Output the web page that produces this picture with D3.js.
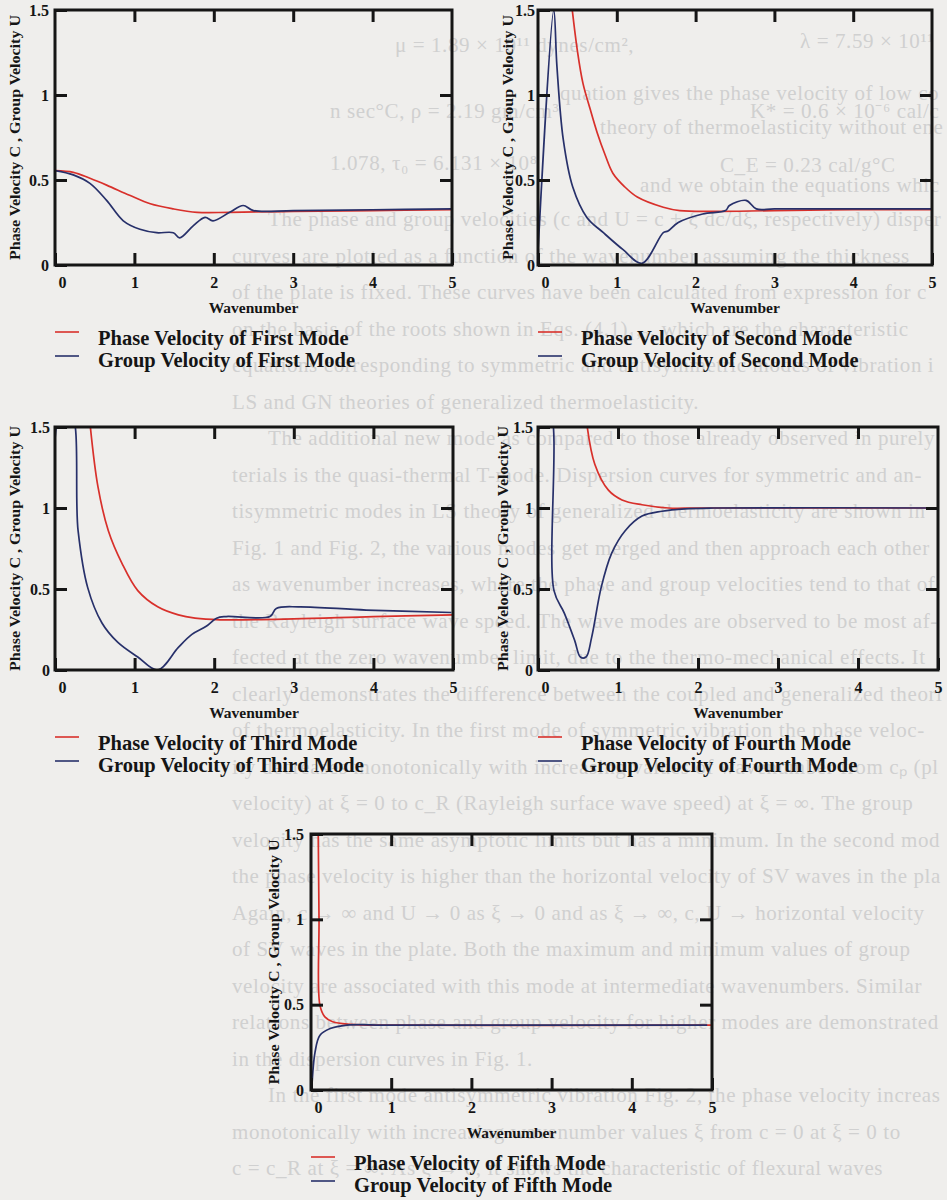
<!DOCTYPE html>
<html>
<head>
<meta charset="utf-8">
<script src="https://cdn.jsdelivr.net/npm/d3@7"></script>
<style>
  html, body { margin: 0; padding: 0; background: #efeeec; }
  svg { display: block; }
</style>
</head>
<body>
<svg id="page"></svg>
<script>
// axes shared by all five panels
const xTicks = [0, 1, 2, 3, 4, 5]
const yTicks = [0, 0.5, 1, 1.5]
const modeNames = ["First", "Second", "Third", "Fourth", "Fifth"]

// [wavenumber, velocity] pairs
const phase1 = [[0, 0.555], [0.23, 0.545], [0.44, 0.51], [0.65, 0.47], [0.94, 0.41], [1.2, 0.36],
  [1.49, 0.33], [1.79, 0.31], [2.2, 0.31], [3, 0.315], [4, 0.32], [5, 0.325]]
const group1 = [[0, 0.555], [0.23, 0.53], [0.44, 0.48], [0.65, 0.38], [0.86, 0.26], [1.07, 0.21],
  [1.28, 0.19], [1.49, 0.19], [1.57, 0.16], [1.74, 0.23], [1.89, 0.28], [1.99, 0.26], [2.2, 0.31],
  [2.37, 0.35], [2.5, 0.32], [3, 0.32], [4, 0.325], [5, 0.33]]

const phase2 = [[0.43, 1.52], [0.5, 1.26], [0.57, 1.07], [0.66, 0.92], [0.75, 0.78], [0.85, 0.65],
  [0.95, 0.54], [1.1, 0.46], [1.26, 0.4], [1.59, 0.34], [1.8, 0.32], [2.2, 0.315], [3, 0.32],
  [4, 0.325], [5, 0.325]]
const group2 = [[0, 0.08], [0.2, 1.5], [0.24, 1.17], [0.32, 0.74], [0.44, 0.46], [0.62, 0.28],
  [0.83, 0.19], [1.08, 0.09], [1.32, 0.01], [1.59, 0.19], [1.65, 0.2], [1.78, 0.25], [2.09, 0.3],
  [2.38, 0.32], [2.43, 0.35], [2.64, 0.38], [2.77, 0.33], [3, 0.33], [4, 0.33], [5, 0.33]]

const phase3 = [[0.44, 1.52], [0.54, 1.13], [0.67, 0.86], [0.84, 0.66], [1.04, 0.49], [1.29, 0.39],
  [1.55, 0.34], [1.76, 0.32], [2.07, 0.31], [3, 0.315], [4, 0.33], [5, 0.34]]
const group3 = [[0, 0], [0.075, 1.6], [0.2, 1.6], [0.29, 0.86], [0.41, 0.51], [0.59, 0.29],
  [0.79, 0.17], [1.04, 0.08], [1.29, 0.0], [1.55, 0.14], [1.72, 0.22], [1.9, 0.27], [2.03, 0.32],
  [2.15, 0.33], [2.7, 0.33], [2.78, 0.38], [3.07, 0.39], [3.91, 0.37], [4.98, 0.355]]

const phase4 = [[0.61, 1.52], [0.71, 1.27], [0.88, 1.11], [1.05, 1.05], [1.3, 1.02], [1.63, 1.0],
  [2, 1.0], [5, 1.0]]
const group4 = [[0.01, 0.48], [0.06, 1.6], [0.15, 1.6], [0.2, 0.49], [0.33, 0.35], [0.46, 0.18],
  [0.53, 0.08], [0.6, 0.08], [0.67, 0.2], [0.79, 0.51], [0.92, 0.72], [1.09, 0.86], [1.3, 0.95],
  [1.55, 0.98], [1.84, 0.995], [2.2, 1.0], [5, 1.0]]

const phase5 = [[0.09, 1.52], [0.1, 1.0], [0.11, 0.5], [0.17, 0.43], [0.27, 0.4], [0.49, 0.385],
  [1, 0.38], [5, 0.38]]
const group5 = [[0.01, 0.01], [0.05, 0.22], [0.11, 0.32], [0.24, 0.36], [0.45, 0.38], [1, 0.38],
  [4.94, 0.38]]

const phaseData = [phase1, phase2, phase3, phase4, phase5]
const groupData = [group1, group2, group3, group4, group5]

// where each panel sits on the page
const panels = [
  {left: 55, top: 10, width: 397, height: 255, yLabelX: 15, pad: 6},
  {left: 538, top: 10, width: 394, height: 255, yLabelX: 508, pad: 3},
  {left: 55, top: 427, width: 398, height: 243, yLabelX: 15, pad: 5},
  {left: 538, top: 427, width: 400, height: 243, yLabelX: 503, pad: 5},
  {left: 311, top: 834, width: 401, height: 256, yLabelX: 274, pad: 7}
]

// faint page text showing through the scan
const pageLines = [
  "The phase and group velocities (c and U = c + ξ dc/dξ, respectively) dispersion",
  "curves, are plotted as a function of the wavenumber assuming the thickness",
  "of the plate is fixed. These curves have been calculated from expression for c",
  "on the basis of the roots shown in Eqs. (4.1)₁,₂, which are the characteristic",
  "equations corresponding to symmetric and antisymmetric modes of vibration in",
  "LS and GN theories of generalized thermoelasticity.",
  "The additional new mode as compared to those already observed in purely elastic ma-",
  "terials is the quasi-thermal T-mode. Dispersion curves for symmetric and an-",
  "tisymmetric modes in LS theory of generalized thermoelasticity are shown in",
  "Fig. 1 and Fig. 2, the various modes get merged and then approach each other",
  "as wavenumber increases, where the phase and group velocities tend to that of",
  "the Rayleigh surface wave speed. The wave modes are observed to be most af-",
  "fected at the zero wavenumber limit, due to the thermo-mechanical effects. It",
  "clearly demonstrates the difference between the coupled and generalized theories",
  "of thermoelasticity. In the first mode of symmetric vibration the phase veloc-",
  "ity decreases monotonically with increasing values of wavenumber from cₚ (plate",
  "velocity) at ξ = 0 to c_R (Rayleigh surface wave speed) at ξ = ∞. The group",
  "velocity has the same asymptotic limits but has a minimum. In the second mode",
  "the phase velocity is higher than the horizontal velocity of SV waves in the plate.",
  "Again, c → ∞ and U → 0 as ξ → 0 and as ξ → ∞, c, U → horizontal velocity",
  "of SV waves in the plate. Both the maximum and minimum values of group",
  "velocity are associated with this mode at intermediate wavenumbers. Similar",
  "relations between phase and group velocity for higher modes are demonstrated",
  "in the dispersion curves in Fig. 1.",
  "In the first mode antisymmetric vibration Fig. 2, the phase velocity increases",
  "monotonically with increasing wavenumber values ξ from c = 0 at ξ = 0 to",
  "c = c_R at ξ = ∞. As ξ → 0, it shows the characteristic of flexural waves"
]
const indented = [0, 6, 24]

// a few of the formula lines near the top of the page
const topBits = [
  {x: 395, y: 52, t: "μ = 1.89 × 10¹¹ dynes/cm²,"},
  {x: 800, y: 48, t: "λ = 7.59 × 10¹¹ dynes/cm²,"},
  {x: 560, y: 100, t: "quation gives the phase velocity of low compressional or plate waves in"},
  {x: 330, y: 118, t: "n sec°C,     ρ = 2.19 gm/cm³"},
  {x: 750, y: 118, t: "K* = 0.6 × 10⁻⁶ cal/cm"},
  {x: 600, y: 134, t: "theory of thermoelasticity without energy dissipation."},
  {x: 330, y: 170, t: "1.078,   τ₀ = 6.131 × 10⁸"},
  {x: 720, y: 172, t: "C_E = 0.23 cal/g°C"},
  {x: 640, y: 192, t: "and we obtain the equations which are similar"}
]

const svg = d3.select("#page")
  .attr("width", 947)
  .attr("height", 1200)

const serif = "'Liberation Serif', 'Times New Roman', serif"

// background page text, very light, cut at the page edge like the scan
const bg = svg.append("g")
  .attr("fill", "#d0d0d0")
  .style("font-family", serif)
  .style("font-size", "21px")
  .style("letter-spacing", "0.6px")

const bgText = pageLines.map((t, i) => ({x: indented.includes(i) ? 268 : 232, y: 226 + i * 36.5, t: t}))
  .concat(topBits)

bg.selectAll("text")
  .data(bgText)
  .enter()
  .append("text")
  .attr("x", d => d.x)
  .attr("y", d => d.y)
  .text(d => d.t)
  .each(function(d) {
    //drop characters that would run past the right edge
    let s = d.t
    while (s.length > 1 && d.x + this.getComputedTextLength() > 944) {
      s = s.slice(0, -1)
      this.textContent = s
    }
  })

const red = "#d8302b"
const blue = "#27306a"

panels.forEach((p, i) => {
  const g = svg.append("g")
    .attr("transform", "translate(" + p.left + "," + p.top + ")")

  const x = d3.scaleLinear().domain([0, 5]).range([0, p.width])
  const y = d3.scaleLinear().domain([0, 1.5]).range([p.height, 0])

  g.append("clipPath")
    .attr("id", "clip" + i)
    .append("rect")
    .attr("width", p.width)
    .attr("height", p.height)

  const line = d3.line()
    .x(d => x(d[0]))
    .y(d => y(d[1]))
    .curve(d3.curveCatmullRom.alpha(0.5))

  //phase first so the group curve sits on top of it
  g.append("path")
    .datum(phaseData[i])
    .attr("clip-path", "url(#clip" + i + ")")
    .attr("fill", "none")
    .attr("stroke", red)
    .attr("stroke-width", 1.7)
    .attr("d", line)

  g.append("path")
    .datum(groupData[i])
    .attr("clip-path", "url(#clip" + i + ")")
    .attr("fill", "none")
    .attr("stroke", blue)
    .attr("stroke-width", 1.7)
    .attr("d", line)

  //inward ticks on all four sides
  const bottom = g.append("g")
    .attr("transform", "translate(0," + p.height + ")")
    .call(d3.axisBottom(x).tickValues(xTicks).tickSize(-12).tickPadding(12).tickFormat(d => String(d)))
  bottom.selectAll("text").filter(d => d === 0).attr("dx", 7)

  g.append("g")
    .call(d3.axisTop(x).tickValues([1, 2, 3, 4]).tickSize(-12).tickFormat(""))

  g.append("g")
    .call(d3.axisLeft(y).tickValues(yTicks).tickSize(-12).tickPadding(p.pad).tickFormat(d => String(d)))

  g.append("g")
    .attr("transform", "translate(" + p.width + ",0)")
    .call(d3.axisRight(y).tickValues([0.5, 1]).tickSize(-12).tickFormat(""))

  g.selectAll(".domain").remove()
  g.selectAll(".tick line")
    .attr("stroke", "#151515")
    .attr("stroke-width", 3)
  g.selectAll(".tick text")
    .attr("fill", "#151515")
    .style("font-family", serif)
    .style("font-weight", "bold")
    .style("font-size", "16px")

  //plot frame
  g.append("rect")
    .attr("width", p.width)
    .attr("height", p.height)
    .attr("fill", "none")
    .attr("stroke", "#151515")
    .attr("stroke-width", 3)

  g.append("text")
    .attr("x", p.width / 2)
    .attr("y", p.height + 48)
    .attr("text-anchor", "middle")
    .attr("fill", "#151515")
    .style("font-family", serif)
    .style("font-weight", "bold")
    .style("font-size", "15.5px")
    .text("Wavenumber")

  g.append("text")
    .attr("transform", "translate(" + (p.yLabelX - p.left) + "," + (p.height / 2) + ")rotate(-90)")
    .attr("text-anchor", "middle")
    .attr("dominant-baseline", "central")
    .attr("textLength", 245)
    .attr("lengthAdjust", "spacingAndGlyphs")
    .attr("fill", "#151515")
    .style("font-family", serif)
    .style("font-weight", "bold")
    .style("font-size", "14px")
    .text("Phase Velocity C , Group Velocity U")

  //legend under each panel
  const legend = [
    {label: "Phase Velocity of " + modeNames[i] + " Mode", color: red, ly: 67, ty: 80},
    {label: "Group Velocity of " + modeNames[i] + " Mode", color: blue, ly: 91, ty: 102}
  ]
  legend.forEach(l => {
    g.append("line")
      .attr("x1", 0)
      .attr("x2", 24)
      .attr("y1", p.height + l.ly)
      .attr("y2", p.height + l.ly)
      .attr("stroke", l.color)
      .attr("stroke-width", 1.6)
    g.append("text")
      .attr("x", 43)
      .attr("y", p.height + l.ty)
      .attr("fill", "#151515")
      .style("font-family", serif)
      .style("font-weight", "bold")
      .style("font-size", "20.5px")
      .text(l.label)
  })
})
</script>
</body>
</html>
